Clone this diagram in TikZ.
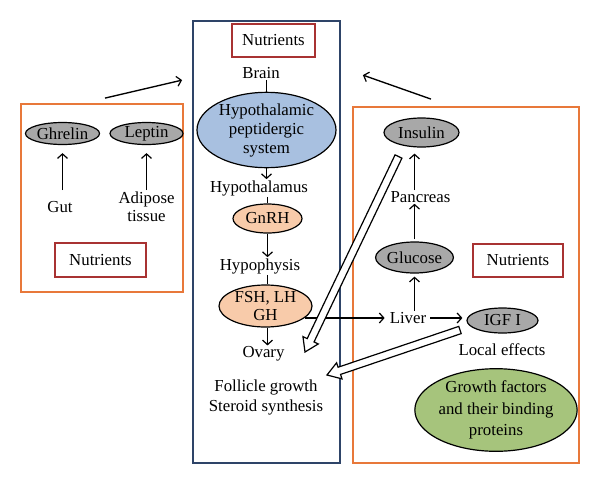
\documentclass[tikz,border=0pt]{standalone}
\usepackage{fontspec}
\setmainfont{Liberation Serif}
\usetikzlibrary{shapes.geometric,arrows.meta,calc}
\definecolor{orng}{HTML}{E8783A}
\definecolor{navy}{HTML}{2E4468}
\definecolor{nutred}{HTML}{A83232}
\definecolor{hpsblue}{HTML}{A8C0E0}
\definecolor{peach}{HTML}{F8CBAA}
\definecolor{gry}{HTML}{A8A8A8}
\definecolor{grn}{HTML}{A6C47C}
\newcommand\hollowarr[2]{%
  \coordinate (hn) at ($(#2)!13pt!(#1)$);
  \draw[hollow] ($(#1)!3.8pt!90:(#2)$) -- ($(hn)!3.8pt!90:(#2)$) -- ($(hn)!8.5pt!90:(#2)$)
    -- (#2) -- ($(hn)!8.5pt!-90:(#2)$) -- ($(hn)!3.8pt!-90:(#2)$) -- ($(#1)!3.8pt!-90:(#2)$) -- cycle;
}
\begin{document}
\begin{tikzpicture}[x=1pt,y=-1pt,
  font=\fontsize{16.8}{19.5}\selectfont,
  ell/.style={ellipse, draw, line width=1.2pt, inner sep=0pt},
  lbl/.style={inner sep=1pt, align=center},
  nut/.style={draw=nutred, line width=1.5pt, inner sep=0pt},
  obox/.style={draw=orng, line width=1.8pt, inner sep=0pt},
  arr/.style={-{Straight Barb[length=4.5pt,width=10pt,line width=1.2pt]}, line width=1.35pt},
  ln/.style={line width=1.35pt},
  hollow/.style={draw, line width=1.2pt, fill=white, line join=miter}]
\useasboundingbox (0,0) rectangle (600,485);
% boxes
\node[draw=navy, line width=1.8pt, inner sep=0pt, minimum width=147pt, minimum height=442pt] (bluebox) at (266.5,242) {};
\node[obox, minimum width=162pt, minimum height=188pt] (leftbox) at (102,198) {};
\node[obox, minimum width=226pt, minimum height=356pt] (rightbox) at (466,285) {};
% nutrients
\node[nut, minimum width=83pt, minimum height=33pt] (nut1) at (273.5,40.5) {Nutrients};
\node[nut, minimum width=91pt, minimum height=34pt] (nut2) at (100.5,260) {Nutrients};
\node[nut, minimum width=90pt, minimum height=33pt] (nut3) at (518,260.5) {Nutrients};
% central column
\node[lbl] (brain) at (261,73) {Brain};
\node[ell, fill=hpsblue, minimum width=139pt, minimum height=66pt, align=center] (hps) at (266.5,130) {Hypothalamic\\[-0.5pt]peptidergic\\[-0.5pt]system};
\node[lbl] (hypoth) at (259,188) {Hypothalamus};
\node[ell, fill=peach, minimum width=69pt, minimum height=29pt] (gnrh) at (267.5,218.5) {GnRH};
\node[lbl] (hypoph) at (260,266) {Hypophysis};
\node[ell, fill=peach, minimum width=93pt, minimum height=42pt, align=center] (fsh) at (265.5,306) {FSH, LH\\[-1.5pt]GH};
\node[lbl] (ovary) at (263.5,354) {Ovary};
\node[lbl] (foll) at (266,397.5) {Follicle growth\\Steroid synthesis};
% left box
\node[ell, fill=gry, minimum width=74pt, minimum height=22pt] (ghrelin) at (62.5,133.5) {Ghrelin};
\node[ell, fill=gry, minimum width=73pt, minimum height=22pt] (leptin) at (146.5,133.5) {Leptin};
\node[lbl] (gut) at (60,207) {Gut};
\node[lbl] (adipose) at (146.5,206.5) {Adipose\\[-1pt]tissue};
% right box
\node[ell, fill=gry, minimum width=75pt, minimum height=29pt] (insulin) at (421.5,132.5) {Insulin};
\node[lbl] (pancreas) at (420.5,197) {Pancreas};
\node[ell, fill=gry, minimum width=75pt, minimum height=31pt] (glucose) at (414.5,257.5) {Glucose};
\node[lbl] (liver) at (408,318) {Liver};
\node[ell, fill=gry, minimum width=71pt, minimum height=25pt] (igf) at (502.5,320.5) {IGF I};
\node[lbl] (local) at (502,350) {Local effects};
\node[ell, fill=grn, minimum width=156pt, minimum height=68pt, align=center, font=\fontsize{16.8}{21.5}\selectfont] (gf) at (496,410) {Growth factors\\and their binding\\proteins};
% central connectors
\draw[ln] (brain.south -| hps.north) -- (hps.north);
\draw[arr] (hps.south) -- (hps.south |- hypoth.north);
\draw[ln] (hypoth.south -| gnrh.north) -- (gnrh.north);
\draw[arr] (gnrh.south) -- (gnrh.south |- hypoph.north);
\draw[ln] (hypoph.south -| gnrh.south) -- (gnrh.south |- fsh.north);
\draw[arr] (fsh.south -| gnrh.south) -- (gnrh.south |- ovary.north);
\draw[arr, shorten >=4pt] (fsh.-17) -- (fsh.-17 -| liver.west);
% left connectors
\draw[arr, shorten >=8pt] (ghrelin.south |- adipose.north) -- (ghrelin.south);
\draw[arr, shorten >=8pt] (adipose.north) -- (leptin.south);
% right connectors
\draw[arr, shorten <=3pt, shorten >=4pt] (liver.east) -- (liver.east -| igf.west);
\draw[arr, shorten >=3pt] (glucose.south |- liver.north) -- (glucose.south);
\draw[arr, shorten <=2pt] (glucose.north) -- (glucose.north |- pancreas.south);
\draw[arr, shorten >=6pt] (glucose.north |- pancreas.north) -- (glucose.north |- insulin.south);
% arrows between boxes
\coordinate (la) at ($(leftbox.north)+(3,-5)$);
\coordinate (lb) at ($(bluebox.north west)+(-10,60)$);
\draw[arr] (la) -- (lb);
\coordinate (ra) at ($(rightbox.north)+(-35,-7)$);
\coordinate (rb) at ($(bluebox.north east)+(22,55)$);
\draw[arr] (ra) -- (rb);
% hollow arrows
\coordinate (h1a) at (398.5,156.5);
\coordinate (h1b) at (305,352);
\hollowarr{h1a}{h1b}
\coordinate (h2a) at (460,330);
\coordinate (h2b) at (327,375);
\hollowarr{h2a}{h2b}
\end{tikzpicture}
\end{document}
